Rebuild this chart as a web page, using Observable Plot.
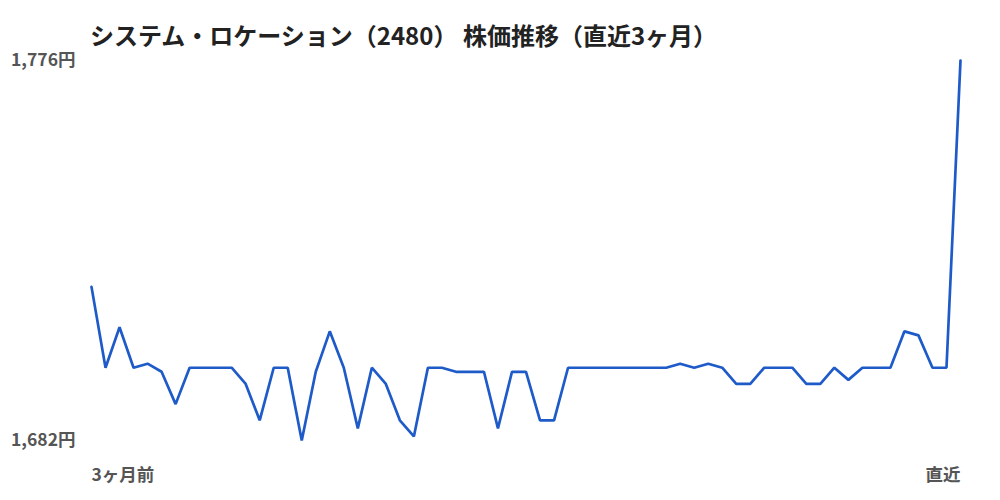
<!DOCTYPE html>
<html><head><meta charset="utf-8">
<script src="https://cdn.jsdelivr.net/npm/d3@7"></script>
<script src="https://cdn.jsdelivr.net/npm/@observablehq/plot@0.6"></script>
<style>
body{margin:0;background:#fff;font-family:"Noto Sans CJK JP","Noto Sans",sans-serif;}
#title{padding:20px 0 0 90px;height:30px;line-height:30px;font-size:24px;font-weight:700;color:#222;white-space:nowrap;}
</style></head><body>
<div id="title">システム・ロケーション（2480） 株価推移（直近3ヶ月）</div>
<div id="chart"></div>
<script>
const prices = [1720,1700,1710,1700,1701,1699,1691,1700,1700,1700,1700,1696,1687,1700,1700,1682,1699,1709,1700,1685,1700,1696,1687,1683,1700,1700,1699,1699,1699,1685,1699,1699,1687,1687,1700,1700,1700,1700,1700,1700,1700,1700,1701,1700,1701,1700,1696,1696,1700,1700,1700,1696,1696,1700,1697,1700,1700,1700,1709,1708,1700,1700,1776];
const yTicks = [1682, 1776];
const xLabels = ["3ヶ月前", "直近"];
const yUnit = "円";

const data = prices.map((v, i) => ({i, v}));
const last = prices.length - 1;

const chart = Plot.plot({
  width: 1000,
  height: 450,
  marginTop: 10,
  marginBottom: 60,
  marginLeft: 91,
  marginRight: 40,
  style: {fontFamily: '"Noto Sans CJK JP","Noto Sans",sans-serif', background: "#fff", overflow: "visible"},
  x: {domain: [0, last], axis: null},
  y: {domain: [yTicks[0], yTicks[1]], axis: null},
  marks: [
    Plot.axisY(yTicks, {
      label: null, tickSize: 0, tickPadding: 16, fontSize: 17.5, fontWeight: 700, fill: "#555",
      tickFormat: d => d3.format(",")(d) + yUnit
    }),
    Plot.line(data, {x: "i", y: "v", stroke: "#1e5bc9", strokeWidth: 2.7, strokeLinejoin: "miter"}),
    Plot.text([xLabels[0]], {x: () => 0, frameAnchor: "bottom", dy: 40, text: d => d, textAnchor: "start", fontSize: 17.5, fontWeight: 700, fill: "#555"}),
    Plot.text([xLabels[1]], {x: () => last, frameAnchor: "bottom", dy: 40, text: d => d, textAnchor: "end", fontSize: 17.5, fontWeight: 700, fill: "#555"})
  ]
});
document.getElementById("chart").appendChild(chart);
</script>
</body></html>
